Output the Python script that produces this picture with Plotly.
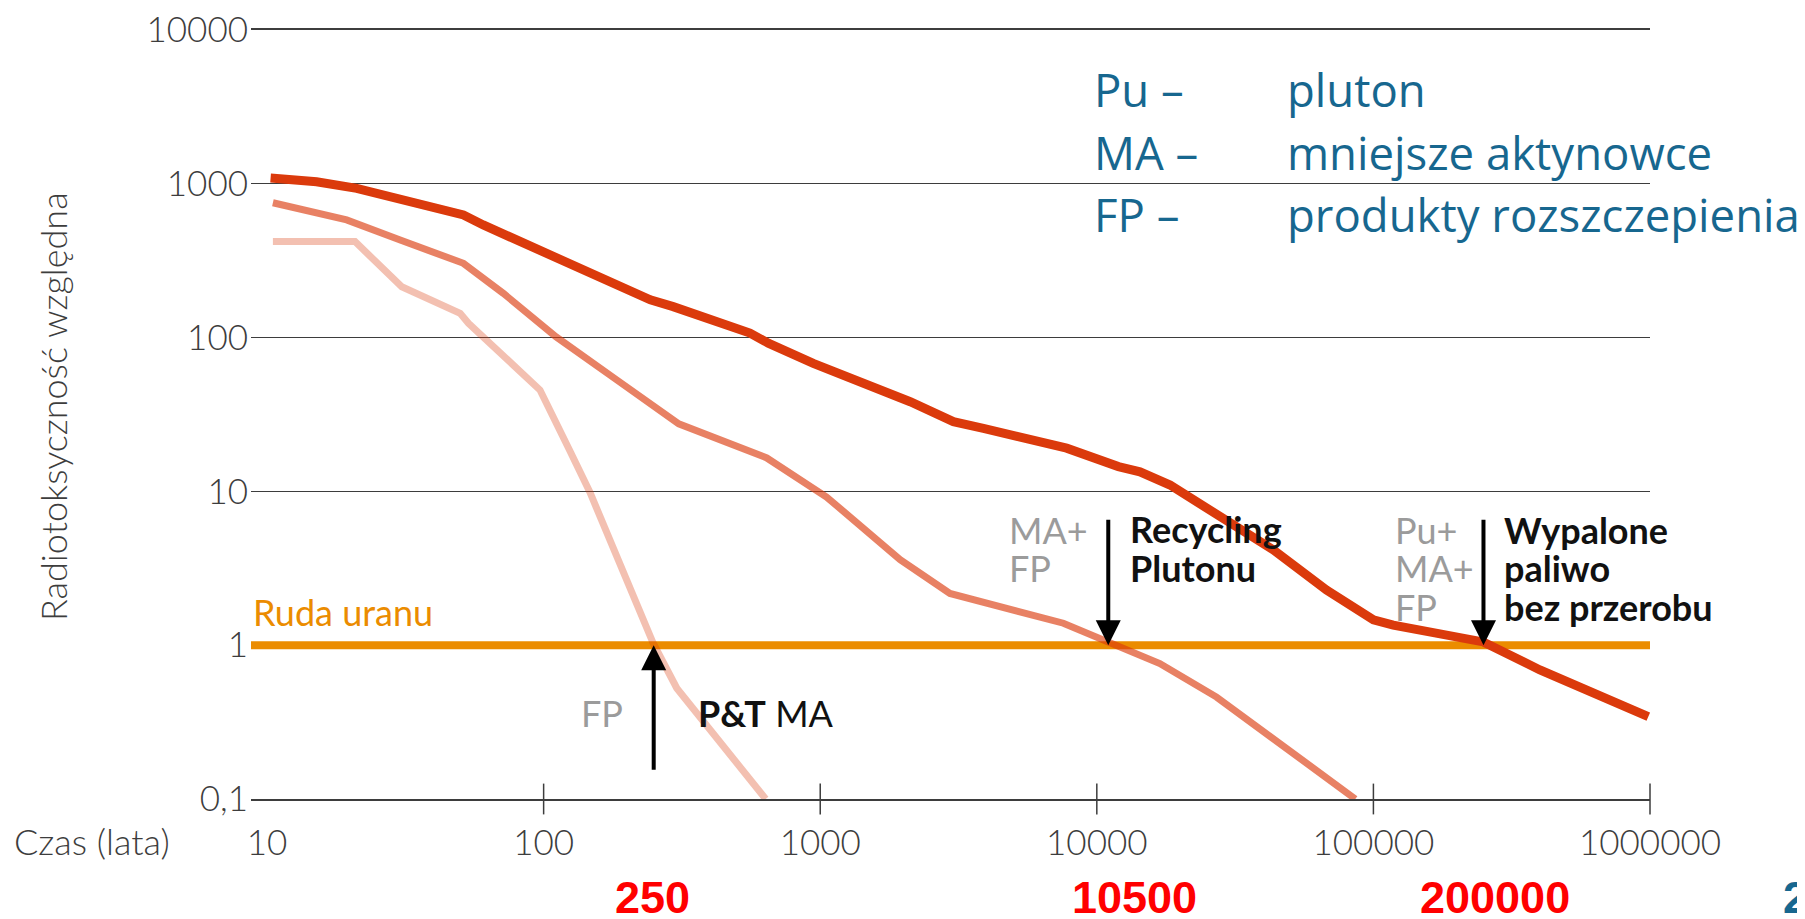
import numpy as np
import plotly.graph_objects as go

# ---------------- data ----------------
# FP only (after P&T of MA)
fp_years = [10.5, 20.8, 30.7, 49.9, 53.5, 97, 124, 147, 249, 303, 635]
fp_tox = [421, 421, 214, 144, 124, 45.6, 18.6, 9.87, 1.03, 0.525, 0.1]

# MA + FP (plutonium recycling)
mafp_years = [10.5, 19.4, 30.3, 43.4, 51.3, 71.5, 111, 184, 308, 641, 1054,
              1945, 2944, 7570, 11170, 16900, 27100, 86000]
mafp_tox = [753, 582, 431, 336, 304, 194, 101, 53, 27.5, 16.5, 9.2,
            3.6, 2.17, 1.39, 1.05, 0.76, 0.46, 0.1]

# Pu + MA + FP (spent fuel without reprocessing)
all_years = [10.3, 15.1, 21.1, 31.1, 51.3, 60.5, 86.9, 128, 243, 294, 557, 649,
             944, 2115, 2296, 3030, 3890, 7780, 11970, 14320, 18400, 26400,
             43500, 67700, 100000, 118000, 194500, 249600, 400000, 659000,
             716000, 986000]
all_tox = [1090, 1032, 935, 793, 627, 540, 400, 292, 176, 159, 107, 92,
           68, 38.3, 35.9, 28.4, 25.7, 19.1, 14.5, 13.4, 11.0, 7.2,
           4.16, 2.28, 1.46, 1.35, 1.16, 1.05, 0.69, 0.474, 0.45, 0.343]

ore_level = 1  # uranium ore reference level

x_ticks = [10, 100, 1000, 10000, 100000, 1000000]
x_ticktext = ["10", "100", "1000", "10000", "100000", "1000000"]
x_tickmarks = [100, 1000, 10000, 100000, 1000000]
y_ticks = [0.1, 1, 10, 100, 1000, 10000]
y_ticktext = ["0,1", "1", "10", "100", "1000", "10000"]

arrow_years = [250, 11000, 250000]
red_labels = ["250", "10500", "200000"]

legend_abbr = ["Pu \u2013", "MA \u2013", "FP \u2013"]
legend_desc = ["pluton", "mniejsze aktynowce", "produkty rozszczepienia"]

# ---------------- layout geometry (screen pixels) ----------------
BODY = 8                      # default page margin around the plot div
W, H = 1805 - BODY, 919 - BODY
PL_L, PL_R, PL_T, PL_B = 251, 1650, 30, 799
X_LO, X_HI = 0.942, 6.0
Y_LO, Y_HI = -1, 4


def px(X):
    return (X - PL_L) / (PL_R - PL_L)


def py(Y):
    return (PL_B - Y) / (PL_B - PL_T)


RED = "rgb(219,58,12)"
ORANGE = "#EB8C00"
GRAY_T = "#9b9b9b"
TEAL = "#17678F"
AX = "#3d3d3d"

fig = go.Figure()

# uranium ore line across the whole plot
fig.add_trace(go.Scatter(x=[10 ** X_LO, 10 ** X_HI], y=[ore_level, ore_level],
                         mode="lines", line=dict(color=ORANGE, width=8),
                         hoverinfo="skip"))
fig.add_trace(go.Scatter(x=fp_years, y=fp_tox, mode="lines",
                         line=dict(color="rgba(219,58,12,0.32)", width=7)))
fig.add_trace(go.Scatter(x=mafp_years, y=mafp_tox, mode="lines",
                         line=dict(color="rgba(219,58,12,0.64)", width=7)))
fig.add_trace(go.Scatter(x=all_years, y=all_tox, mode="lines",
                         line=dict(color=RED, width=9)))
# axis tick marks crossing the time axis
fig.add_trace(go.Scatter(x=x_tickmarks, y=[y_ticks[0]] * len(x_tickmarks),
                         mode="markers", cliponaxis=False,
                         marker=dict(symbol="line-ns", size=22,
                                     line=dict(color=AX, width=1.5))))

font_tick = dict(family="Lato", size=35, color=AX, weight=300)
font_title = dict(family="Lato", size=36, color=AX, weight=300)
anns = []

anns.append(dict(text="Radiotoksyczno\u015b\u0107 wzgl\u0119dna", textangle=-90,
                 xref="paper", yref="paper", x=px(53), y=py(407),
                 xanchor="center", yanchor="middle", showarrow=False, font=font_title))
anns.append(dict(text="Czas (lata)", xref="paper", yref="paper", x=px(12), y=py(841),
                 xanchor="left", yanchor="middle", showarrow=False, font=font_title))
anns.append(dict(text="Ruda uranu", xref="paper", yref="paper", x=px(251), y=py(612),
                 xanchor="left", yanchor="middle", showarrow=False,
                 font=dict(family="Lato", size=36, color=ORANGE)))


def txt(t, X, Y, color, bold=False):
    anns.append(dict(text=(f"<b>{t}</b>" if bold else t), xref="paper", yref="paper",
                     x=px(X), y=py(Y), xanchor="left", yanchor="middle",
                     showarrow=False,
                     font=dict(family="Lato", size=36, color=color)))


txt("FP", 579, 713, GRAY_T)
txt("<b>P&amp;T</b> MA", 696, 713, "#111111")
txt("MA+", 1007, 530, GRAY_T)
txt("FP", 1007, 568, GRAY_T)
txt("Recycling", 1128, 529, "#111111", bold=True)
txt("Plutonu", 1128, 568, "#111111", bold=True)
txt("Pu+", 1393, 530, GRAY_T)
txt("MA+", 1393, 568, GRAY_T)
txt("FP", 1393, 607, GRAY_T)
txt("Wypalone", 1502, 530, "#111111", bold=True)
txt("paliwo", 1502, 568, "#111111", bold=True)
txt("bez przerobu", 1502, 607, "#111111", bold=True)

# arrows (tip on the ore line)
tails = [126, -127, -127]
for yr, ay in zip(arrow_years, tails):
    anns.append(dict(text="", x=np.log10(yr), y=np.log10(ore_level), xref="x", yref="y",
                     showarrow=True, ax=0, ay=ay, arrowhead=2, arrowsize=1.25,
                     arrowwidth=4, arrowcolor="#000000", standoff=0))

# red year labels under the axis
for t, X in zip(red_labels, [652, 1134, 1495]):
    anns.append(dict(text=f"<b>{t}</b>", xref="paper", yref="paper", x=px(X), y=py(897),
                     xanchor="center", yanchor="middle", showarrow=False,
                     font=dict(family="Liberation Sans", size=45, color="#FF0000")))
# slide page number
anns.append(dict(text="<b>2</b>", xref="paper", yref="paper", x=px(1781), y=py(897),
                 xanchor="left", yanchor="middle", showarrow=False,
                 font=dict(family="Liberation Sans", size=45, color=TEAL)))

# abbreviations legend
for i, (a, d) in enumerate(zip(legend_abbr, legend_desc)):
    Y = [89, 152, 214][i]
    anns.append(dict(text=a, xref="paper", yref="paper", x=px(1092), y=py(Y),
                     xanchor="left", yanchor="middle", showarrow=False,
                     font=dict(family="Open Sans", size=45.5, color=TEAL)))
    anns.append(dict(text=d, xref="paper", yref="paper", x=px(1285), y=py(Y),
                     xanchor="left", yanchor="middle", showarrow=False,
                     font=dict(family="Open Sans", size=45.5, color=TEAL)))

fig.update_layout(
    width=W, height=H,
    margin=dict(l=PL_L - BODY, r=W - (PL_R - BODY), t=PL_T - BODY, b=H - (PL_B - BODY),
                autoexpand=False),
    paper_bgcolor="white", plot_bgcolor="white",
    showlegend=False,
    annotations=anns,
    xaxis=dict(type="log", range=[X_LO, X_HI], tickvals=x_ticks, ticktext=x_ticktext,
               ticks="", showgrid=False, showline=True, mirror=True, linecolor=AX,
               linewidth=1.5, zeroline=False, tickfont=font_tick,
               ticklabelstandoff=12, ticklabeloverflow="allow", fixedrange=True),
    yaxis=dict(type="log", range=[Y_LO, Y_HI], tickvals=y_ticks, ticktext=y_ticktext,
               ticks="", showgrid=True, gridcolor=AX, gridwidth=1.3, showline=False,
               zeroline=False, tickfont=font_tick, ticklabelstandoff=2,
               ticklabeloverflow="allow", fixedrange=True),
)

fig.write_html("out.html")
